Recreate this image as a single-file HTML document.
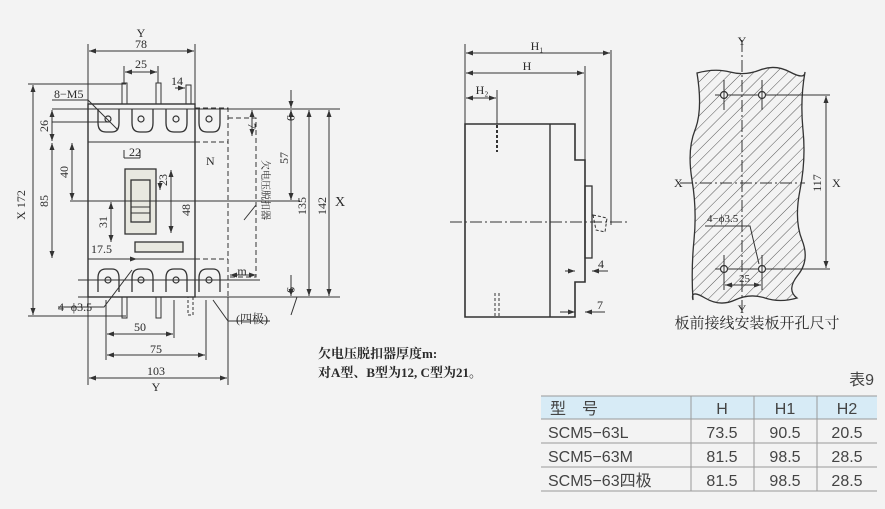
<!DOCTYPE html>
<html><head><meta charset="utf-8"><style>
html,body{margin:0;padding:0;background:#f3f3f3;}
svg{display:block}
text{font-family:"Liberation Serif","Noto Serif CJK SC",serif;fill:#2a2a2a}
.s{font-family:"Liberation Sans","Noto Sans CJK SC",sans-serif;fill:#444}
</style></head><body>
<svg width="885" height="509" viewBox="0 0 885 509" xmlns="http://www.w3.org/2000/svg">
<defs>
<marker id="a" markerWidth="7" markerHeight="5" refX="7" refY="2.5" orient="auto-start-reverse"><path d="M0,0L7,2.5L0,5z" fill="#333"/></marker>
<pattern id="h" width="8" height="8" patternUnits="userSpaceOnUse" patternTransform="rotate(45)"><line x1="0" y1="0" x2="0" y2="8" stroke="#555" stroke-width="1"/></pattern>
</defs>
<g stroke="#333" fill="none" stroke-width="1">
<rect x="88" y="104" width="107" height="193" stroke-width="1.4"/>
<line x1="88" y1="142" x2="195" y2="142"/>
<line x1="88" y1="259" x2="195" y2="259"/>
<path d="M195,108H228V297H195" stroke-dasharray="5,3"/>
<path d="M195,142H228M195,259H228" stroke-dasharray="5,3"/>
<path d="M228,118H256V277H228" stroke-dasharray="5,3"/>
<path d="M256,205L244,220" />
<rect x="125" y="169" width="31" height="65" fill="#e8e8e0" stroke-width="1.3"/>
<rect x="131" y="180" width="19" height="42" stroke-width="1.3"/>
<line x1="131" y1="207" x2="150" y2="207"/><line x1="131" y1="213" x2="150" y2="213"/>
<rect x="135" y="242" width="48" height="10" fill="#e8e8e0" stroke-width="1.3"/>
<g stroke-width="1.3">
<path d="M98,109V123Q98,132 106,132H112Q119,132 119,123V109"/>
<path d="M132,109V123Q132,132 140,132H146Q153,132 153,123V109"/>
<path d="M166,109V123Q166,132 174,132H180Q187,132 187,123V109"/>
<path d="M199,109V123Q199,132 207,132H213Q220,132 220,123V109"/>
<path d="M98,292V278Q98,269 106,269H112Q119,269 119,278V292"/>
<path d="M132,292V278Q132,269 140,269H146Q153,269 153,278V292"/>
<path d="M166,292V278Q166,269 174,269H180Q187,269 187,278V292"/>
<path d="M199,292V278Q199,269 207,269H213Q220,269 220,278V292"/>
</g>
<g stroke-width="1.2">
<circle cx="108" cy="119" r="3"/><circle cx="141" cy="119" r="3"/><circle cx="176" cy="119" r="3"/><circle cx="209" cy="119" r="3"/>
<circle cx="108" cy="280" r="3"/><circle cx="141" cy="280" r="3"/><circle cx="176" cy="280" r="3"/><circle cx="209" cy="280" r="3"/>
</g>
<rect x="122" y="83" width="5" height="21"/><rect x="156" y="83" width="5" height="21"/><rect x="186" y="85" width="5" height="19"/>
<rect x="122" y="297" width="5" height="21"/><rect x="156" y="297" width="5" height="21"/><rect x="188" y="297" width="5" height="18" stroke-dasharray="3,2"/>
<line x1="52" y1="109" x2="340" y2="109"/>
<line x1="52" y1="122" x2="110" y2="122"/>
<line x1="28" y1="84" x2="126" y2="84"/>
<line x1="28" y1="316" x2="126" y2="316"/>
<line x1="70" y1="201" x2="300" y2="201"/>
<line x1="78" y1="297" x2="340" y2="297"/>
<line x1="78" y1="280" x2="260" y2="280"/>
<line x1="88" y1="297" x2="88" y2="385"/><line x1="228" y1="297" x2="228" y2="385"/>
<line x1="106" y1="300" x2="106" y2="360"/><line x1="206" y1="300" x2="206" y2="360"/><line x1="174" y1="300" x2="174" y2="338"/>
<line x1="88" y1="104" x2="88" y2="44"/><line x1="195" y1="104" x2="195" y2="44"/>
<line x1="124" y1="83" x2="124" y2="66"/><line x1="158" y1="83" x2="158" y2="66"/>
<g marker-start="url(#a)" marker-end="url(#a)">
<line x1="89" y1="51" x2="194" y2="51"/>
<line x1="125" y1="72" x2="157" y2="72"/>
<line x1="107" y1="334" x2="173" y2="334"/>
<line x1="107" y1="355" x2="205" y2="355"/>
<line x1="89" y1="378" x2="227" y2="378"/>
<line x1="33" y1="85" x2="33" y2="315"/>
<line x1="52" y1="110" x2="52" y2="141"/>
<line x1="52" y1="143" x2="52" y2="258"/>
<line x1="72" y1="143" x2="72" y2="200"/>
<line x1="111" y1="202" x2="111" y2="242"/>
<line x1="171" y1="170" x2="171" y2="233"/>
<line x1="291" y1="110" x2="291" y2="200"/>
<line x1="309" y1="110" x2="309" y2="296"/>
<line x1="329" y1="110" x2="329" y2="296"/>
<line x1="252" y1="110" x2="252" y2="136"/>
<line x1="230" y1="275" x2="256" y2="275"/>
</g>
<line x1="175" y1="88" x2="185" y2="88" marker-end="url(#a)"/>
<line x1="291" y1="90" x2="291" y2="108" marker-end="url(#a)"/>
<line x1="291" y1="130" x2="291" y2="110" marker-end="url(#a)"/>
<line x1="291" y1="275" x2="291" y2="296" marker-end="url(#a)"/>
<line x1="291" y1="315" x2="297" y2="297"/>
<line x1="160" y1="181" x2="160" y2="190" marker-end="url(#a)"/>
<line x1="125" y1="259" x2="137" y2="259" marker-end="url(#a)"/>
<path d="M52,100H88L118,130"/>
<path d="M58,307H104L132,270"/>
<path d="M228,321H270M228,321L213,300"/>
<path d="M124,158H140M124,158V150M140,158V150"/>
<path d="M465,124H575V160H585V282H575V317H465Z" stroke-width="1.6"/>
<line x1="550" y1="124" x2="550" y2="317" stroke-width="1.4"/>
<rect x="585" y="186" width="7" height="72" stroke-width="1.3"/>
<path d="M593,215L607,218L605,232L596,230Z" stroke-dasharray="3,2"/>
<line x1="450" y1="222" x2="630" y2="222" stroke-dasharray="12,3,2,3"/>
<line x1="465" y1="124" x2="465" y2="44"/><line x1="611" y1="50" x2="611" y2="225"/><line x1="585" y1="160" x2="585" y2="66"/>
<line x1="497" y1="124" x2="497" y2="90"/>
<line x1="497" y1="125" x2="497" y2="152" stroke-dasharray="3,2" stroke-width="2"/>
<line x1="495" y1="293" x2="495" y2="317" stroke-dasharray="3,2"/><line x1="499" y1="293" x2="499" y2="317" stroke-dasharray="3,2"/>
<g marker-start="url(#a)" marker-end="url(#a)">
<line x1="466" y1="53" x2="610" y2="53"/><line x1="466" y1="73" x2="584" y2="73"/><line x1="466" y1="98" x2="496" y2="98"/>
</g>
<line x1="565" y1="271" x2="575" y2="271" marker-end="url(#a)"/><line x1="608" y1="271" x2="592" y2="271" marker-end="url(#a)"/>
<line x1="560" y1="312" x2="575" y2="312" marker-end="url(#a)"/><line x1="605" y1="312" x2="585" y2="312" marker-end="url(#a)"/>
<path d="M697,73Q715,68 730,72T760,70T790,72T805,72Q800,100 803,130T800,190T802,240T798,275T797,298Q780,303 765,298T735,300T705,298T693,300Q691,270 694,240T692,180T695,130T697,73Z" fill="url(#h)" stroke-width="1.3"/>
<line x1="742" y1="40" x2="742" y2="310" stroke-dasharray="12,3,2,3"/>
<line x1="680" y1="183" x2="805" y2="183" stroke-dasharray="12,3,2,3"/>
<line x1="715" y1="95" x2="830" y2="95"/><line x1="715" y1="269" x2="830" y2="269"/>
<line x1="826" y1="96" x2="826" y2="268" marker-start="url(#a)" marker-end="url(#a)"/>
<g fill="#f3f3f3" stroke-width="1.2"><circle cx="724" cy="95" r="3.5"/><circle cx="762" cy="95" r="3.5"/><circle cx="724" cy="269" r="3.5"/><circle cx="762" cy="269" r="3.5"/></g>
<line x1="724" y1="80" x2="724" y2="110"/><line x1="762" y1="80" x2="762" y2="110"/>
<line x1="724" y1="255" x2="724" y2="290"/><line x1="762" y1="255" x2="762" y2="290"/>
<line x1="725" y1="285" x2="761" y2="285" marker-start="url(#a)" marker-end="url(#a)"/>
<path d="M705,226H750L759,264"/>
<rect x="541" y="396" width="336" height="23" fill="#d7ebf6" stroke="none"/>
<g stroke="#999">
<line x1="541" y1="396" x2="877" y2="396"/><line x1="541" y1="419" x2="877" y2="419"/>
<line x1="541" y1="443" x2="877" y2="443"/><line x1="541" y1="467" x2="877" y2="467"/><line x1="541" y1="491" x2="877" y2="491"/>
<line x1="691" y1="396" x2="691" y2="491"/><line x1="754" y1="396" x2="754" y2="491"/><line x1="817" y1="396" x2="817" y2="491"/>
</g>
</g>
<g font-size="12">
<text x="141" y="37" text-anchor="middle">Y</text><text x="141" y="48" text-anchor="middle">78</text>
<text x="141" y="68" text-anchor="middle">25</text><text x="177" y="85" text-anchor="middle">14</text>
<text x="54" y="98">8−M5</text>
<text x="129" y="156">22</text>
<text x="206" y="165">N</text>
<text x="91" y="253">17.5</text>
<text x="58" y="311">4−ϕ3.5</text>
<text x="140" y="331" text-anchor="middle">50</text>
<text x="156" y="353" text-anchor="middle">75</text>
<text x="156" y="375" text-anchor="middle">103</text>
<text x="156" y="391" text-anchor="middle">Y</text>
<text x="236" y="323">(四极)</text>
<text x="242" y="275" text-anchor="middle">m</text>
<text x="335" y="206" font-size="14">X</text>
<text transform="translate(25,205) rotate(-90)" text-anchor="middle">X 172</text>
<text transform="translate(48,126) rotate(-90)" text-anchor="middle">26</text>
<text transform="translate(48,201) rotate(-90)" text-anchor="middle">85</text>
<text transform="translate(68,172) rotate(-90)" text-anchor="middle">40</text>
<text transform="translate(107,222) rotate(-90)" text-anchor="middle">31</text>
<text transform="translate(167,180) rotate(-90)" text-anchor="middle">23</text>
<text transform="translate(190,210) rotate(-90)" text-anchor="middle">48</text>
<text transform="translate(287,118) rotate(90)" text-anchor="middle">9</text>
<text transform="translate(248,126) rotate(90)" text-anchor="middle">7</text>
<text transform="translate(288,158) rotate(-90)" text-anchor="middle">57</text>
<text transform="translate(306,206) rotate(-90)" text-anchor="middle">135</text>
<text transform="translate(326,206) rotate(-90)" text-anchor="middle">142</text>
<text transform="translate(287,290) rotate(90)" text-anchor="middle">9</text>
<text transform="translate(262,190) rotate(90)" text-anchor="middle" font-size="10">欠电压脱扣器</text>
</g>
<g font-size="12">
<text x="537" y="50" text-anchor="middle">H₁</text><text x="527" y="70" text-anchor="middle">H</text>
<text x="482" y="94" text-anchor="middle">H₂</text>
<text x="598" y="268">4</text><text x="597" y="309">7</text>
</g>
<g font-size="12">
<text x="742" y="45" text-anchor="middle">Y</text><text x="742" y="313" text-anchor="middle">Y</text>
<text x="674" y="187">X</text><text x="832" y="187">X</text>
<text transform="translate(821,183) rotate(-90)" text-anchor="middle">117</text>
<text x="707" y="222" font-size="11">4−ϕ3.5</text>
<text x="739" y="282" font-size="11">25</text>
<text x="757" y="328" text-anchor="middle" font-size="15">板前接线安装板开孔尺寸</text>
</g>
<text x="318" y="358" font-size="13" font-weight="bold">欠电压脱扣器厚度m:</text>
<text x="318" y="377" font-size="13" font-weight="bold">对A型、B型为12, C型为21。</text>
<g class="s" font-size="16">
<text class="s" x="874" y="385" text-anchor="end">表9</text>
<text class="s" x="550" y="414">型　号</text>
<text class="s" x="722" y="414" text-anchor="middle">H</text>
<text class="s" x="785" y="414" text-anchor="middle">H1</text>
<text class="s" x="847" y="414" text-anchor="middle">H2</text>
<text class="s" x="548" y="438">SCM5−63L</text>
<text class="s" x="548" y="462">SCM5−63M</text>
<text class="s" x="548" y="486">SCM5−63四极</text>
<text class="s" x="722" y="438" text-anchor="middle">73.5</text><text class="s" x="785" y="438" text-anchor="middle">90.5</text><text class="s" x="847" y="438" text-anchor="middle">20.5</text>
<text class="s" x="722" y="462" text-anchor="middle">81.5</text><text class="s" x="785" y="462" text-anchor="middle">98.5</text><text class="s" x="847" y="462" text-anchor="middle">28.5</text>
<text class="s" x="722" y="486" text-anchor="middle">81.5</text><text class="s" x="785" y="486" text-anchor="middle">98.5</text><text class="s" x="847" y="486" text-anchor="middle">28.5</text>
</g>
</svg>
</body></html>
